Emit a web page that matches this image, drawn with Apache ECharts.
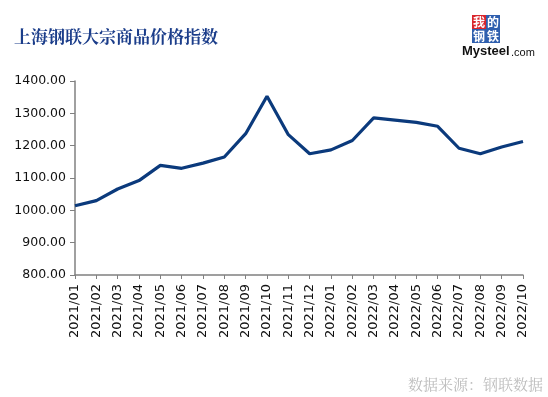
<!DOCTYPE html>
<html>
<head>
<meta charset="utf-8">
<title>上海钢联大宗商品价格指数</title>
<script src="https://cdn.jsdelivr.net/npm/echarts@6/dist/echarts.min.js"></script>
<style>
  html, body { margin: 0; padding: 0; background: #fff; }
  #chart { width: 548px; height: 397px; }
</style>
</head>
<body>
<div id="chart"></div>
<script>
// 月份
var months = ['2021/01','2021/02','2021/03','2021/04','2021/05','2021/06','2021/07','2021/08','2021/09','2021/10','2021/11','2021/12',
              '2022/01','2022/02','2022/03','2022/04','2022/05','2022/06','2022/07','2022/08','2022/09','2022/10'];
// 指数值
var indexValues = [1014,1030,1066,1092,1139,1130,1146,1165,1237,1353,1234,1175,
                   1187,1216,1286,1279,1272,1260,1192,1175,1196,1213];
var yTicks = { min: 800, max: 1400, step: 100 };

var chart = echarts.init(document.getElementById('chart'));
var option = {
  backgroundColor: '#fff',
  animation: false,
  grid: { left: 75, right: 25, top: 81, bottom: 122 },
  graphic: [
    {
      type: 'text', left: 14, top: 28,
      style: { text: '上海钢联大宗商品价格指数', fill: '#1b3d8a', font: 'bold 17px "Noto Serif CJK SC", "Noto Sans CJK SC", serif' }
    },
    // logo 方块
    { type: 'rect', shape: { x: 472, y: 15, width: 14, height: 14 }, style: { fill: '#d9262c' } },
    { type: 'rect', shape: { x: 486, y: 15, width: 14, height: 14 }, style: { fill: '#2f5fae' } },
    { type: 'rect', shape: { x: 472, y: 29, width: 14, height: 14 }, style: { fill: '#2f5fae' } },
    { type: 'rect', shape: { x: 486, y: 29, width: 14, height: 14 }, style: { fill: '#2f5fae' } },
    { type: 'text', x: 479, y: 22, style: { text: '我', fill: '#fff', font: 'bold 12px "Noto Sans CJK SC"', align: 'center', verticalAlign: 'middle' } },
    { type: 'text', x: 493, y: 22, style: { text: '的', fill: '#fff', font: 'bold 12px "Noto Sans CJK SC"', align: 'center', verticalAlign: 'middle' } },
    { type: 'text', x: 479, y: 36, style: { text: '钢', fill: '#fff', font: 'bold 12px "Noto Sans CJK SC"', align: 'center', verticalAlign: 'middle' } },
    { type: 'text', x: 493, y: 36, style: { text: '铁', fill: '#fff', font: 'bold 12px "Noto Sans CJK SC"', align: 'center', verticalAlign: 'middle' } },
    {
      type: 'text', x: 462, y: 45,
      style: { text: 'Mysteel', fill: '#111', font: 'bold 13px "Liberation Sans", Arial' }
    },
    {
      type: 'text', x: 511, y: 47,
      style: { text: '.com', fill: '#111', font: '11px "Liberation Sans", Arial' }
    },
    {
      type: 'text', right: 5, top: 377,
      style: { text: '数据来源：钢联数据', fill: '#bdbdbd', font: '15px "Noto Serif CJK SC", "Noto Sans CJK SC", serif' }
    }
  ],
  xAxis: {
    type: 'category',
    data: months,
    boundaryGap: false,
    axisLine: { lineStyle: { color: '#808080', width: 1.5 } },
    axisTick: { alignWithLabel: true, length: 4, lineStyle: { color: '#808080' } },
    axisLabel: {
      interval: 0, rotate: 90, color: '#111', fontSize: 13, margin: 9,
      fontFamily: '"DejaVu Sans", sans-serif'
    },
    splitLine: { show: false }
  },
  yAxis: {
    type: 'value',
    min: yTicks.min, max: yTicks.max, interval: yTicks.step,
    axisLine: { show: true, lineStyle: { color: '#808080', width: 1.5 } },
    axisTick: { show: true, length: 5, lineStyle: { color: '#808080' } },
    axisLabel: {
      color: '#111', fontSize: 12.5, margin: 9,
      fontFamily: '"DejaVu Sans", sans-serif',
      formatter: function (v) { return v.toFixed(2); }
    },
    splitLine: { show: false }
  },
  series: [{
    name: '上海钢联大宗商品价格指数',
    type: 'line',
    data: indexValues,
    symbol: 'none',
    lineStyle: { color: '#0b3a7c', width: 3.2 }
  }]
};
chart.setOption(option);
</script>
</body>
</html>
